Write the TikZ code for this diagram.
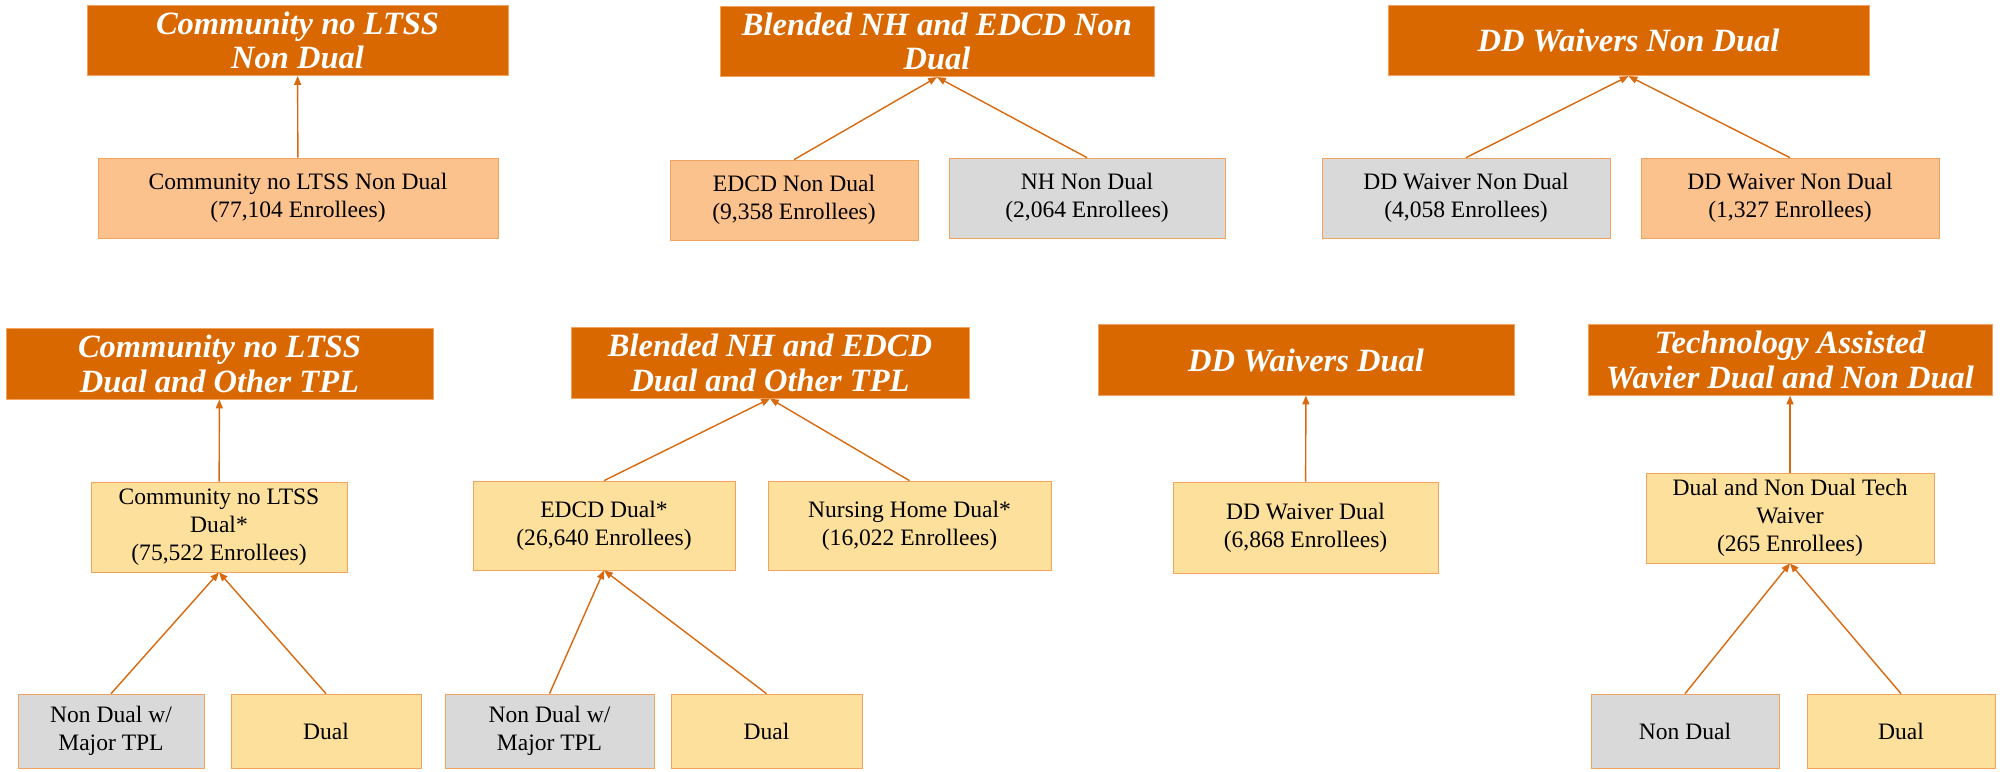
\documentclass[tikz,border=0pt]{standalone}
\usepackage{fontspec}
\setmainfont{Liberation Serif}
\usepackage{tikz}
\usetikzlibrary{arrows.meta, positioning}
\usepackage{xcolor}
\definecolor{hdrc}{HTML}{DA6800}
\definecolor{lorc}{HTML}{FCC28E}
\definecolor{ylwc}{HTML}{FDE09C}
\definecolor{gryc}{HTML}{D9D9D9}
\definecolor{bordc}{HTML}{F2A35E}
\definecolor{arrc}{HTML}{D9690F}

\begin{document}
\begin{tikzpicture}[x=0.02cm, y=-0.02cm,
  hdr/.style={rectangle, draw=bordc, fill=hdrc, text=white, inner sep=0pt,
              minimum height=1.41cm, align=center,
              font=\fontsize{18.5}{19.5}\selectfont\bfseries\itshape},
  grp/.style={rectangle, draw=bordc, fill=ylwc, inner sep=0pt,
              minimum height=1.6cm, align=center,
              font=\fontsize{13.4}{15.8}\selectfont},
  leaf/.style={grp, minimum height=1.48cm},
  arrow/.style={-{Triangle[length=5pt, width=4pt]}, draw=arrc, line width=0.8pt}
]
  \useasboundingbox (0,0) rectangle (2004,771);

  % top row
  \node[hdr, minimum width=8.42cm] (hA) at (297.5,40.5) {Community no LTSS\\Non Dual};
  \node[grp, fill=lorc, minimum width=8.0cm] (cA) at (298,198) {Community no LTSS Non Dual\\(77,104 Enrollees)};

  \node[hdr, minimum width=8.68cm] (hB) at (937,41.5) {Blended NH and EDCD Non\\Dual};
  \node[grp, fill=lorc, minimum width=4.96cm] (cB1) at (794,200) {EDCD Non Dual\\(9,358 Enrollees)};
  \node[grp, fill=gryc, minimum width=5.52cm] (cB2) at (1087,198) {NH Non Dual\\(2,064 Enrollees)};

  \node[hdr, minimum width=9.62cm] (hC) at (1628.5,40.5) {DD Waivers Non Dual};
  \node[grp, fill=gryc, minimum width=5.76cm] (cC1) at (1466,198) {DD Waiver Non Dual\\(4,058 Enrollees)};
  \node[grp, fill=lorc, minimum width=5.96cm] (cC2) at (1790,198) {DD Waiver Non Dual\\(1,327 Enrollees)};

  % bottom row
  \node[hdr, minimum width=8.54cm] (hD) at (219.5,364) {Community no LTSS\\Dual and Other TPL};
  \node[grp, minimum width=5.12cm, minimum height=1.8cm] (cD) at (219,527) {Community no LTSS\\Dual*\\(75,522 Enrollees)};
  \node[leaf, fill=gryc, minimum width=3.72cm] (lD1) at (111,731) {Non Dual w/\\Major TPL};
  \node[leaf, minimum width=3.8cm] (lD2) at (326,731) {Dual};

  \node[hdr, minimum width=7.96cm] (hE) at (770,363) {Blended NH and EDCD\\Dual and Other TPL};
  \node[grp, minimum width=5.24cm, minimum height=1.78cm] (cE1) at (604,525.5) {EDCD Dual*\\(26,640 Enrollees)};
  \node[grp, minimum width=5.66cm, minimum height=1.78cm] (cE2) at (909.5,525.5) {Nursing Home Dual*\\(16,022 Enrollees)};
  \node[leaf, fill=gryc, minimum width=4.18cm] (lE1) at (549.5,731) {Non Dual w/\\Major TPL};
  \node[leaf, minimum width=3.82cm] (lE2) at (766.5,731) {Dual};

  \node[hdr, minimum width=8.32cm] (hF) at (1306,360) {DD Waivers Dual};
  \node[grp, minimum width=5.3cm, minimum height=1.82cm] (cF) at (1305.5,527.5) {DD Waiver Dual\\(6,868 Enrollees)};

  \node[hdr, minimum width=8.08cm] (hG) at (1790,360) {Technology Assisted\\Wavier Dual and Non Dual};
  \node[grp, minimum width=5.76cm, minimum height=1.8cm] (cG) at (1790,518) {Dual and Non Dual Tech\\Waiver\\(265 Enrollees)};
  \node[leaf, fill=gryc, minimum width=3.76cm] (lG1) at (1685,731) {Non Dual};
  \node[leaf, minimum width=3.76cm] (lG2) at (1901,731) {Dual};

  % connectors
  \draw[arrow] (cA) -- (hA);
  \draw[arrow] (cB1.north) -- (hB.south);
  \draw[arrow] (cB2.north) -- (hB.south);
  \draw[arrow] (cC1.north) -- (hC.south);
  \draw[arrow] (cC2.north) -- (hC.south);

  \draw[arrow] (cD) -- (hD);
  \draw[arrow] (lD1.north) -- (cD.south);
  \draw[arrow] (lD2.north) -- (cD.south);
  \draw[arrow] (cE1.north) -- (hE.south);
  \draw[arrow] (cE2.north) -- (hE.south);
  \draw[arrow] (lE1.north) -- (cE1.south);
  \draw[arrow] (lE2.north) -- (cE1.south);
  \draw[arrow] (cF) -- (hF);
  \draw[arrow] (cG) -- (hG);
  \draw[arrow] (lG1.north) -- (cG.south);
  \draw[arrow] (lG2.north) -- (cG.south);
\end{tikzpicture}
\end{document}
